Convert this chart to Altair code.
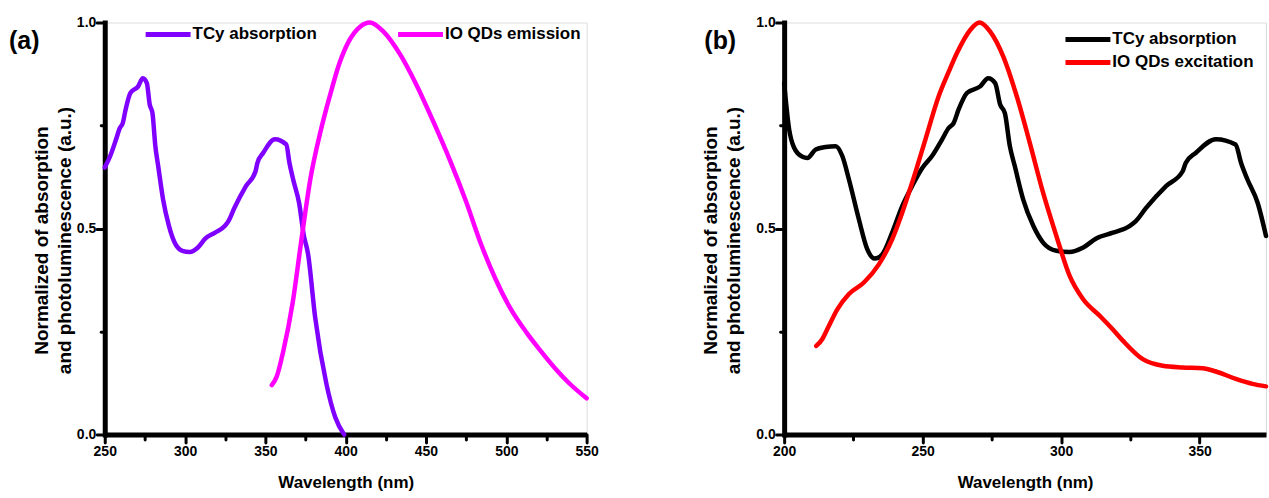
import altair as alt
import pandas as pd

FONT = "Liberation Sans"

# TCy absorption (shared by both panels)
tcy_wl = [200, 201.8, 203.6, 206.6, 208.4, 211.4, 215, 218.6, 221, 223.4,
          227, 230, 232.7, 235.4, 239, 242.6, 246.2, 250, 253.4, 257,
          259.4, 261.2, 263, 266, 270.8, 273.7, 276.2, 278, 279.7, 281.5,
          283.3, 286.3, 290, 293.5, 298.3, 303, 308, 312.7, 318.7, 324.7,
          327, 330.7, 337.9, 343.9, 345, 348.7, 355.9, 363, 365, 367.3,
          371, 374, 376.5, 381, 388, 393.5, 399]
tcy_abs = [0.853, 0.741, 0.696, 0.674, 0.671, 0.692, 0.698, 0.700, 0.676, 0.619,
           0.522, 0.450, 0.427, 0.437, 0.490, 0.554, 0.603, 0.648, 0.676, 0.716,
           0.744, 0.756, 0.789, 0.829, 0.845, 0.865, 0.853, 0.801, 0.780, 0.700,
           0.651, 0.571, 0.506, 0.466, 0.446, 0.443, 0.454, 0.476, 0.490, 0.506,
           0.518, 0.550, 0.603, 0.639, 0.659, 0.684, 0.717, 0.704, 0.659, 0.619,
           0.562, 0.482, 0.440, 0.284, 0.123, 0.042, 0.0]

# IO QDs emission (panel a)
em_wl = [354, 357, 361, 367, 372, 378, 384, 390, 396, 402, 409, 415, 423.5,
         434, 444, 454.5, 465, 475, 484, 493, 502, 512.5, 521, 531, 538.5, 550]
em_val = [0.12, 0.14, 0.20, 0.32, 0.46, 0.62, 0.73, 0.82, 0.90, 0.955, 0.99, 1.0, 0.978,
          0.922, 0.849, 0.760, 0.665, 0.565, 0.465, 0.380, 0.310, 0.248, 0.205, 0.158, 0.127, 0.088]

# IO QDs excitation (panel b)
ex_wl = [211.6, 213.8, 215.6, 219.2, 223.4, 228.8, 234.2, 239, 242.6, 246.2,
         251, 255.8, 259.4, 262.4, 267.2, 270.5, 274.4, 279.1, 284, 288.7,
         293.5, 298.3, 303.1, 307.9, 314, 318.7, 322.3, 329.5, 336.7, 343.9,
         351.1, 355.9, 363.1, 369.1, 374]
ex_val = [0.215, 0.232, 0.256, 0.304, 0.341, 0.369, 0.413, 0.474, 0.538, 0.611,
          0.716, 0.821, 0.88, 0.926, 0.982, 1.0, 0.978, 0.918, 0.821, 0.708,
          0.587, 0.482, 0.385, 0.329, 0.288, 0.255, 0.228, 0.183, 0.167, 0.163,
          0.161, 0.153, 0.135, 0.123, 0.117]

xa_ticks = [250, 275, 300, 325, 350, 375, 400, 425, 450, 475, 500, 525, 550]
xb_ticks = [200, 225, 250, 275, 300, 325, 350]
y_ticks = [0, 0.25, 0.5, 0.75, 1.0]

Y_TITLE = ["Normalized of absorption", "and photoluminescence (a.u.)"]
X_TITLE = "Wavelength (nm)"

tcy = pd.DataFrame({"wl": tcy_wl, "val": tcy_abs, "series": "TCy absorption"})
df_a = pd.concat([
    tcy[tcy.wl >= 250],
    pd.DataFrame({"wl": em_wl, "val": em_val, "series": "IO QDs emission"}),
])
df_b = pd.concat([
    tcy[tcy.wl <= 374],
    pd.DataFrame({"wl": ex_wl, "val": ex_val, "series": "IO QDs excitation"}),
])


def x_axis(ticks):
    return alt.Axis(
        values=ticks, format="d",
        labelExpr="datum.value % 50 === 0 ? datum.label : ''",
        tickSize={"condition": {"test": "datum.value % 50 === 0", "value": 8}, "value": 5},
        tickWidth=3, tickColor="black", tickCap="round",
        domainWidth=5, domainColor="black",
        grid=False, labelFlush=False, labelOverlap=False,
        labelFont=FONT, labelFontSize=14, labelFontWeight="bold", labelColor="black",
        labelPadding=2,
        title=X_TITLE, titleFont=FONT, titleFontSize=17, titleFontWeight="bold",
        titleColor="black", titlePadding=16,
    )


def y_axis(title_pad):
    return alt.Axis(
        values=y_ticks, format=".1f",
        labelExpr="datum.value % 0.5 === 0 ? datum.label : ''",
        tickSize={"condition": {"test": "datum.value % 0.5 === 0", "value": 8}, "value": 4},
        tickWidth=3, tickColor="black", tickCap="round",
        domainWidth=5, domainColor="black", domainCap="square",
        grid=False, labelOverlap=False,
        labelFont=FONT, labelFontSize=14, labelFontWeight="bold", labelColor="black",
        labelPadding=1,
        title=Y_TITLE, titleFont=FONT, titleFontSize=19, titleFontWeight="bold",
        titleColor="black", titleLineHeight=23, titlePadding=title_pad, titleY=218,
    )


def legend(x, y, direction):
    return alt.Legend(
        title=None, orient="none", legendX=x, legendY=y, direction=direction,
        symbolType="M-3,0H3", symbolSize=225, symbolStrokeWidth=5,
        labelFont=FONT, labelFontSize=17, labelFontWeight="bold", labelColor="black",
        labelOffset=14.5, columnPadding=70, rowPadding=3, padding=0,
    )


def panel(df, names, colors, xdom, xticks, width, leg, title_pad, tag, tag_x):
    lines = alt.Chart(df).mark_line(
        strokeWidth=4.5, strokeJoin="round", strokeCap="round", interpolate="monotone"
    ).encode(
        x=alt.X("wl:Q", scale=alt.Scale(domain=xdom, nice=False, zero=False), axis=x_axis(xticks)),
        y=alt.Y("val:Q", scale=alt.Scale(domain=[0, 1], nice=False), axis=y_axis(title_pad)),
        color=alt.Color("series:N", scale=alt.Scale(domain=names, range=colors), legend=leg),
        detail="series:N",
    )
    label = alt.Chart(pd.DataFrame({"t": [tag]})).mark_text(
        font=FONT, fontSize=25, fontWeight="bold", align="left", baseline="middle", color="black"
    ).encode(text="t:N", x=alt.value(tag_x), y=alt.value(19))
    return alt.layer(lines, label).properties(width=width, height=413)


pa = panel(df_a, ["TCy absorption", "IO QDs emission"], ["#7F00FF", "#FF00FF"],
           [250, 550], xa_ticks, 483, legend(53.5, 2, "horizontal"), 2, "(a)", -96)
pb = panel(df_b, ["TCy absorption", "IO QDs excitation"], ["#000000", "#FF0000"],
           [200, 374], xb_ticks, 483, legend(294.5, 7, "vertical"), 12, "(b)", -80)

chart = alt.hconcat(pa, pb, spacing=198, bounds="flush").resolve_scale(
    color="independent"
).properties(
    padding={"left": 8, "top": 14, "right": 0, "bottom": 0}
).configure_view(stroke=None).configure(font=FONT)

chart.save("out.html", embed_options={"renderer": "svg", "actions": False})
